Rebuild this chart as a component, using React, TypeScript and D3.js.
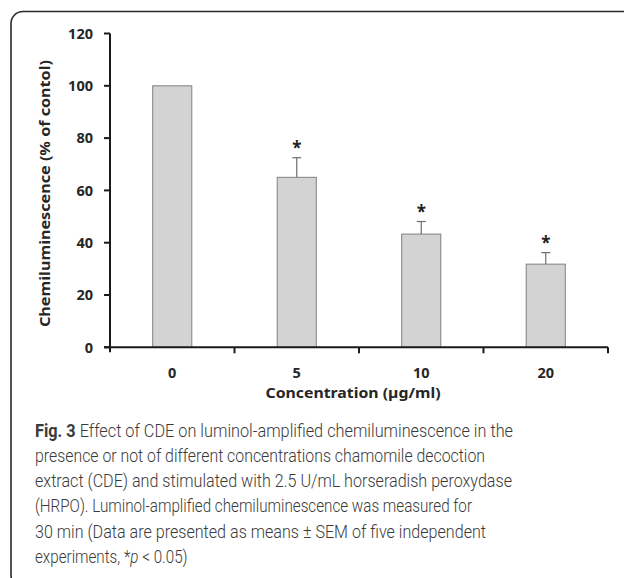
import React from "react";
import * as d3 from "d3";

const categories = ["0", "5", "10", "20"];
const means = [100, 65, 43.3, 31.8];
const errors = [0, 7.5, 4.8, 4.4];
const significant = [false, true, true, true];
const yTicks = [0, 20, 40, 60, 80, 100, 120];
const yTitle = "Chemiluminescence (% of contol)";
const xTitle = "Concentration (µg/ml)";
const captionLines = [
  "Effect of CDE on luminol-amplified chemiluminescence in the",
  "presence or not of different concentrations chamomile decoction",
  "extract (CDE) and stimulated with 2.5 U/mL horseradish peroxydase",
  "(HRPO). Luminol-amplified chemiluminescence was measured for",
  "30 min (Data are presented as means ± SEM of five independent",
  "experiments, *",
];
const captionLineEnds = [513, 485, 512, 472, 486, 185];

const W = 624;
const H = 578;
const left = 110;
const right = 608;
const top = 33.5;
const bottom = 347.3;

export default function App() {
  const x = d3
    .scaleBand<string>()
    .domain(categories)
    .range([left, right])
    .paddingInner(0.686)
    .paddingOuter(0.343);
  const y = d3.scaleLinear().domain([0, 120]).range([bottom, top]);
  const step = x.step();
  const chartFont = "'Noto Sans', 'Open Sans', sans-serif";
  const capFont = "Roboto, 'Noto Sans', sans-serif";
  const capX = 35;
  const capY0 = 436.5;
  const capStep = 25.3;
  const capColor = "#3a3a3a";
  const capSize = 19;

  return (
    <svg
      width={W}
      height={H}
      viewBox={`0 0 ${W} ${H}`}
      style={{ position: "absolute", left: 0, top: 0, background: "#fff" }}
    >
      <rect x={0} y={0} width={W} height={H} fill="#fff" />
      {/* frame */}
      <rect
        x={11}
        y={11.5}
        width={W + 20}
        height={H - 2}
        rx={12}
        ry={12}
        fill="none"
        stroke="#2a2a2a"
        strokeWidth={1.6}
      />
      {/* bars */}
      {categories.map((c, i) => (
        <rect
          key={c}
          x={x(c)}
          y={y(means[i])}
          width={x.bandwidth()}
          height={y(0) - y(means[i])}
          fill="#d3d3d3"
          stroke="#808080"
          strokeWidth={1}
        />
      ))}
      {/* error bars */}
      {categories.map((c, i) => {
        if (!errors[i]) return null;
        const cx = (x(c) as number) + x.bandwidth() / 2;
        return (
          <g key={"e" + c} stroke="#6e6e6e" strokeWidth={1.2}>
            <line x1={cx} x2={cx} y1={y(means[i])} y2={y(means[i] + errors[i])} />
            <line x1={cx - 4.5} x2={cx + 4.5} y1={y(means[i] + errors[i])} y2={y(means[i] + errors[i])} />
          </g>
        );
      })}
      {/* asterisks */}
      {categories.map((c, i) =>
        significant[i] ? (
          <text
            key={"s" + c}
            x={(x(c) as number) + x.bandwidth() / 2}
            y={y(means[i] + errors[i]) - 4}
            textAnchor="middle"
            fontFamily={chartFont}
            fontWeight={700}
            fontSize={17}
            fill="#222"
          >
            *
          </text>
        ) : null
      )}
      {/* y axis */}
      <line x1={left} x2={left} y1={top} y2={bottom + 5} stroke="#1a1a1a" strokeWidth={2} />
      {yTicks.map((t) => (
        <g key={"y" + t}>
          <line x1={left - 6} x2={left} y1={y(t)} y2={y(t)} stroke="#1a1a1a" strokeWidth={2} />
          <text
            x={93}
            y={y(t)}
            dy="0.36em"
            textAnchor="end"
            fontFamily={chartFont}
            fontWeight={700}
            fontSize={14.5}
            fill="#262626"
          >
            {t}
          </text>
        </g>
      ))}
      {/* x axis */}
      <line x1={left - 6} x2={right} y1={bottom} y2={bottom} stroke="#1a1a1a" strokeWidth={2} />
      {categories.map((c, i) => (
        <line
          key={"xt" + c}
          x1={left + step * (i + 1)}
          x2={left + step * (i + 1)}
          y1={bottom}
          y2={bottom + 6}
          stroke="#1a1a1a"
          strokeWidth={2}
        />
      ))}
      {categories.map((c) => (
        <text
          key={"xl" + c}
          x={(x(c) as number) + x.bandwidth() / 2}
          y={373}
          dy="0.36em"
          textAnchor="middle"
          fontFamily={chartFont}
          fontWeight={700}
          fontSize={14.5}
          fill="#262626"
        >
          {c}
        </text>
      ))}
      <text
        x={353}
        y={393}
        dy="0.36em"
        textAnchor="middle"
        fontFamily={chartFont}
        fontWeight={700}
        fontSize={15}
        fill="#262626"
        textLength={175}
        lengthAdjust="spacingAndGlyphs"
      >
        {xTitle}
      </text>
      <text
        transform={`translate(45,193.5) rotate(-90)`}
        dy="0.36em"
        textAnchor="middle"
        fontFamily={chartFont}
        fontWeight={700}
        fontSize={15}
        fill="#262626"
        textLength={267}
        lengthAdjust="spacingAndGlyphs"
      >
        {yTitle}
      </text>
      {/* caption */}
      <text
        x={capX}
        y={capY0}
        fontFamily={capFont}
        fontWeight={300}
        fontSize={capSize}
        fill={capColor}
        textLength={captionLineEnds[0] - capX}
        lengthAdjust="spacingAndGlyphs"
      >
        <tspan fontWeight={700}>Fig. 3</tspan> {captionLines[0]}
      </text>
      {captionLines.slice(1, 5).map((line, i) => (
        <text
          key={"cap" + i}
          x={capX}
          y={capY0 + capStep * (i + 1)}
          fontFamily={capFont}
          fontWeight={300}
          fontSize={capSize}
          fill={capColor}
          textLength={captionLineEnds[i + 1] - capX}
          lengthAdjust="spacingAndGlyphs"
        >
          {line}
        </text>
      ))}
      <text
        transform={`translate(${capX},${capY0 + capStep * 5}) scale(0.8,1)`}
        fontFamily={capFont}
        fontWeight={300}
        fontSize={capSize}
        fill={capColor}
      >
        {captionLines[5]}
        <tspan fontStyle="italic">p</tspan>
        {" < 0.05)"}
      </text>
    </svg>
  );
}
